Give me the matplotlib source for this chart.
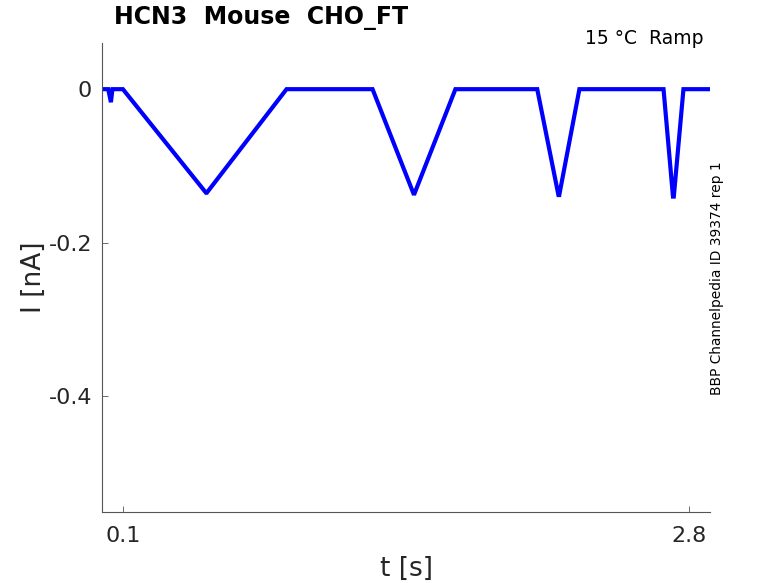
import matplotlib
matplotlib.use("Agg")
import matplotlib.pyplot as plt

# Ramp trace (time in s, current in nA)
t_points = [0.0, 0.03, 0.043, 0.05, 0.10,
            0.496, 0.50, 0.88,
            1.29, 1.485, 1.49, 1.685,
            2.075, 2.176, 2.18, 2.276,
            2.677, 2.722, 2.726, 2.772, 2.9]
i_points = [0.0, 0.0, -0.017, 0.0, 0.0,
            -0.135, -0.135, 0.0,
            0.0, -0.136, -0.136, 0.0,
            0.0, -0.138, -0.138, 0.0,
            0.0, -0.14, -0.14, 0.0, 0.0]

x_ticks = [0.1, 2.8]
y_ticks = [0, -0.2, -0.4]
y_tick_labels = ["0", "-0.2", "-0.4"]

fig = plt.figure(figsize=(7.78, 5.83), dpi=100)
ax = fig.add_axes([0.131, 0.122, 0.782, 0.804])

ax.plot(t_points, i_points, color="#0000ff", linewidth=3.0, solid_joinstyle="miter")

ax.set_xlim(0, 2.9)
ax.set_ylim(-0.551, 0.06)
ax.set_xticks(x_ticks)
ax.set_xticklabels(["0.1", "2.8"])
ax.set_yticks(y_ticks)
ax.set_yticklabels(y_tick_labels)

for side in ["top", "right"]:
    ax.spines[side].set_visible(False)
for side in ["left", "bottom"]:
    ax.spines[side].set_color("#555555")
    ax.spines[side].set_linewidth(0.8)
ax.tick_params(direction="in", length=4, width=0.6, colors="#555555",
               labelsize=16, labelcolor="#262626")
ax.tick_params(axis="x", pad=10)
ax.tick_params(axis="y", pad=7)

ax.set_xlabel("t [s]", fontsize=19, color="#262626", labelpad=7)
ax.set_ylabel("I [nA]", fontsize=19, color="#262626", labelpad=1)

fig.text(0.147, 0.99, "HCN3  Mouse  CHO_FT", fontsize=17, fontweight="bold",
         ha="left", va="top")
fig.text(0.904, 0.918, "15 \u00b0C  Ramp", fontsize=13.5, ha="right", va="bottom")
fig.text(0.921, 0.523, "BBP Channelpedia ID 39374 rep 1", fontsize=9.9,
         rotation=90, ha="center", va="center")

fig.savefig("out.png", dpi=100)
